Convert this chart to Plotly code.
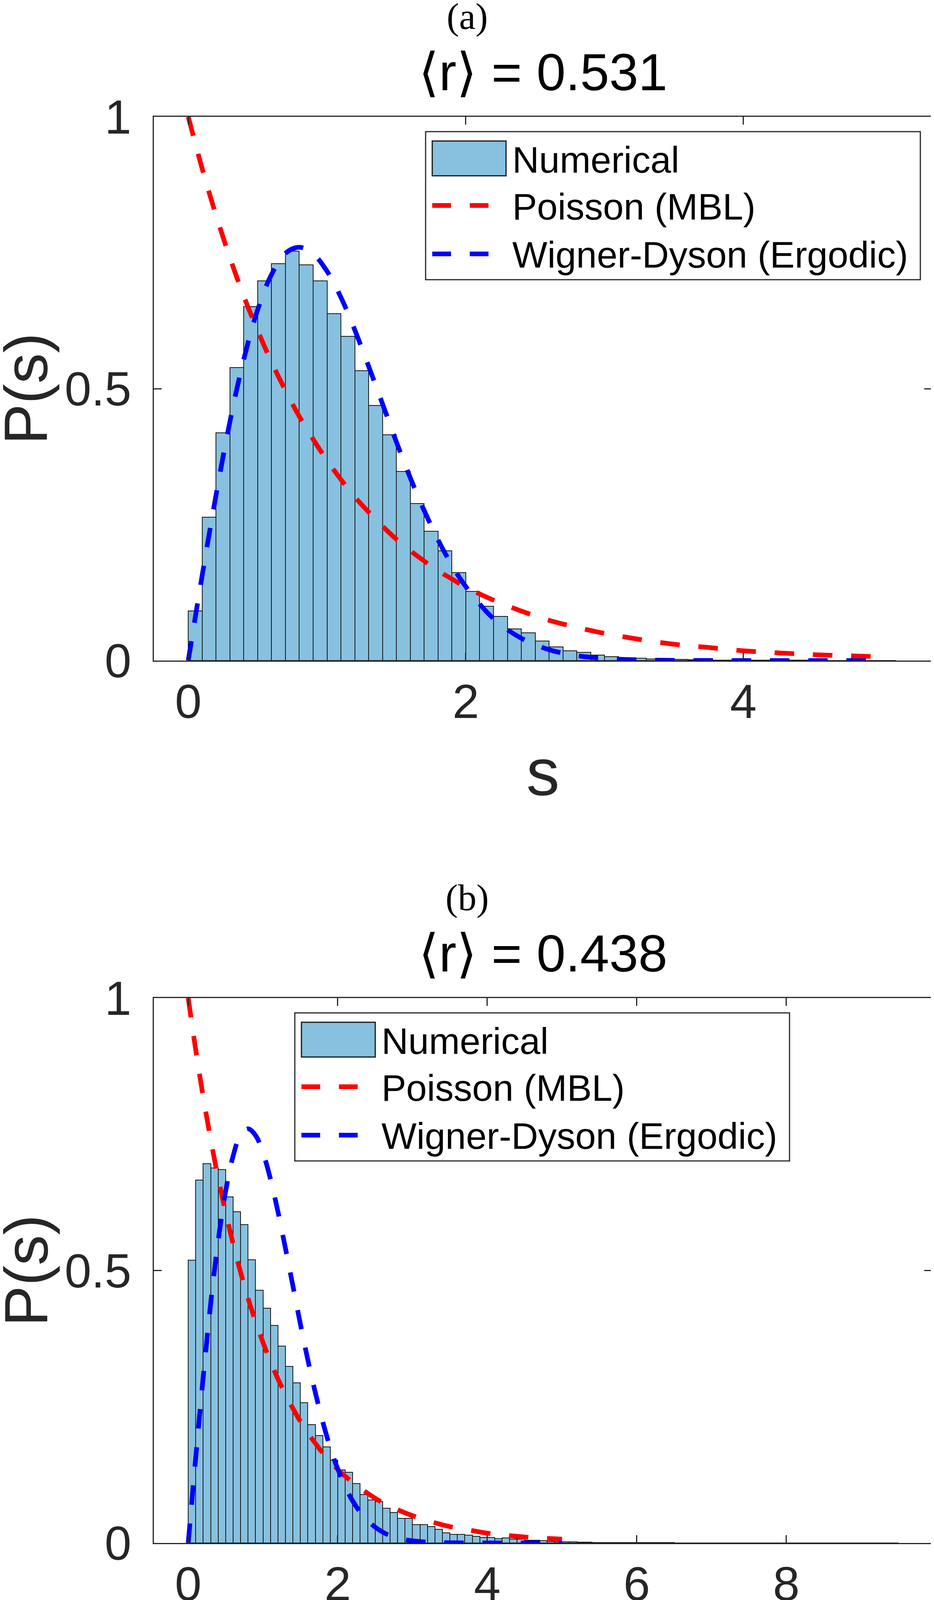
import plotly.graph_objects as go

W, H = 2392, 6581
BIN = 0.1

# ---------------- data ----------------
hist_a = [0.091, 0.264, 0.419, 0.539, 0.651, 0.698, 0.730, 0.753, 0.728, 0.698,
          0.638, 0.596, 0.533, 0.469, 0.415, 0.348, 0.289, 0.238, 0.202, 0.162,
          0.127, 0.100, 0.081, 0.058, 0.051, 0.036, 0.025, 0.018, 0.015, 0.010,
          0.007, 0.005, 0.004, 0.003, 0.002, 0.002, 0.0015, 0.001, 0.001, 0.001,
          0.0008, 0.0006, 0.0005, 0.0004, 0.0004, 0.0003, 0.0003, 0.0002, 0.0002, 0.0002,
          0.0001]

hist_b = [0.519, 0.666, 0.696, 0.688, 0.685, 0.635, 0.608, 0.584, 0.520, 0.464,
          0.431, 0.399, 0.361, 0.324, 0.294, 0.257, 0.217, 0.197, 0.176, 0.152,
          0.134, 0.130, 0.109, 0.089, 0.079, 0.076, 0.064, 0.056, 0.045, 0.045,
          0.034, 0.034, 0.030, 0.025, 0.019, 0.016, 0.016, 0.014, 0.012, 0.010,
          0.010, 0.008, 0.009, 0.007, 0.007, 0.005, 0.005, 0.004, 0.003, 0.002,
          0.002, 0.002, 0.0015, 0.0015, 0.001, 0.001, 0.001, 0.0008, 0.0008, 0.0006,
          0.0005, 0.0005, 0.0004, 0.0004, 0.0004, 0.0003, 0.0003, 0.0003, 0.0003, 0.0002,
          0.0002, 0.0002, 0.0002, 0.0002, 0.0002, 0.0001, 0.0001, 0.0001, 0.0001, 0.0001,
          0.0001, 0.0001, 0.0001, 0.0001, 0.0001, 0.0001, 0.0001, 0.0001, 0.0001, 0.0001,
          0.0001, 0.0001, 0.0001, 0.0001, 0.0001]

hist_c = [0.758, 0.797, 0.775, 0.721, 0.673, 0.611, 0.562, 0.515, 0.463, 0.410,
          0.394, 0.356, 0.309, 0.281, 0.243, 0.225, 0.199, 0.182, 0.160, 0.136,
          0.121, 0.100, 0.098, 0.090, 0.079, 0.067, 0.062, 0.059, 0.050, 0.050,
          0.042, 0.038, 0.034, 0.032, 0.027, 0.025, 0.022, 0.019, 0.015, 0.015,
          0.014, 0.011, 0.010, 0.012, 0.009, 0.008, 0.004, 0.003, 0.004, 0.003,
          0.005, 0.003, 0.002, 0.004, 0.003, 0.002, 0.003, 0.002, 0.002, 0.002,
          0.0015, 0.002, 0.001, 0.001, 0.001, 0.0008, 0.0008, 0.0006, 0.0005, 0.0005,
          0.0004, 0.0004, 0.0004, 0.0003, 0.0003, 0.0003, 0.0003, 0.0003, 0.0002, 0.0002,
          0.0002, 0.0002, 0.0002, 0.0002, 0.0002, 0.0002, 0.0002, 0.0001, 0.0001, 0.0001,
          0.0001, 0.0001, 0.0001, 0.0001, 0.0001, 0.0001, 0.0001, 0.0001, 0.0001, 0.0001,
          0.0001, 0.0001, 0.0001, 0.0001, 0.0001, 0.0001, 0.0001, 0.0001, 0.0001, 0.0001,
          0.0001, 0.0001, 0.0001, 0.0001, 0.0001, 0.0001, 0.0001, 0.0001, 0.0001, 0.0001,
          0.0001, 0.0001, 0.0001, 0.0001, 0.0001, 0.0001, 0.0001, 0.0001, 0.0001, 0.0001,
          0.0001, 0.0001, 0.0001, 0.0001, 0.0001]

s_curve = [0.0, 0.1, 0.2, 0.3, 0.4, 0.5, 0.6, 0.7, 0.8, 0.9, 1.0, 1.1, 1.2, 1.3, 1.4,
           1.5, 1.6, 1.7, 1.8, 1.9, 2.0, 2.2, 2.4, 2.6, 2.8, 3.0, 3.25, 3.5, 3.75,
           4.0, 4.5, 5.0]
poisson_curve = [1.000, 0.905, 0.819, 0.741, 0.670, 0.607, 0.549, 0.497, 0.449, 0.407,
                 0.368, 0.333, 0.301, 0.273, 0.247, 0.223, 0.202, 0.183, 0.165, 0.150,
                 0.135, 0.111, 0.091, 0.074, 0.061, 0.050, 0.039, 0.030, 0.024, 0.018,
                 0.011, 0.007]
wigner_curve = [0.000, 0.156, 0.304, 0.439, 0.554, 0.645, 0.710, 0.749, 0.760, 0.748,
                0.716, 0.668, 0.608, 0.541, 0.472, 0.402, 0.336, 0.276, 0.222, 0.175,
                0.136, 0.077, 0.041, 0.020, 0.009, 0.004, 0.0013, 0.0004, 0.0001, 0.0,
                0.0, 0.0]

histograms = [hist_a, hist_b, hist_c]
panel_tags = ["(a)", "(b)", "(c)"]
r_means = ["0.531", "0.438", "0.408"]
xtick_vals = [[0, 2, 4], [0, 2, 4, 6, 8], [0, 5, 10]]
ytick_vals = [0, 0.5, 1]
ytick_text = ["0", "0.5", "1"]
legend_labels = ["Numerical", "Poisson (MBL)", "Wigner-Dyson (Ergodic)"]

# ---------------- layout geometry (target pixels in the picture) ----------------
x_ranges = [[-0.248, 5.36], [-0.46, 9.95], [-0.652, 14.12]]
plot_left, plot_right = 394, 2387
plot_top = [299, 2555, 4813]
plot_bot = [1691, 3950, 6208]
legend_left = [1090, 755, 755]
xlabel_off = [285, 289, 331]
PAGE_OFFSET = 8  # default body margin of the html page

BAR_COLOR = "#87C1DF"
AX_COLOR = "#262626"
SANS = "Liberation Sans, Arial, DejaVu Sans, sans-serif"
SERIF = "Liberation Serif, Times New Roman, DejaVu Serif, serif"


def px(x):
    return (x - PAGE_OFFSET) / W


def py(y):
    return 1 - (y - PAGE_OFFSET) / H


fig = go.Figure()
layout = dict(width=W, height=H, autosize=False,
              margin=dict(l=0, r=0, t=0, b=0, pad=0, autoexpand=False),
              paper_bgcolor="white", plot_bgcolor="white", showlegend=False,
              bargap=0, barmode="overlay")
annotations = []
shapes = []

for i in range(3):
    sfx = "" if i == 0 else str(i + 1)
    xa, ya = "x" + sfx, "y" + sfx
    hist = histograms[i]
    centers = [BIN * (k + 0.5) for k in range(len(hist))]
    fig.add_trace(go.Bar(x=centers, y=hist, width=BIN, xaxis=xa, yaxis=ya,
                         marker=dict(color=BAR_COLOR, line=dict(color="#151515", width=2)),
                         name=legend_labels[0]))
    fig.add_trace(go.Scatter(x=s_curve, y=poisson_curve, mode="lines", xaxis=xa, yaxis=ya,
                             line=dict(color="#FF0000", width=12, dash="50px,48px", shape="spline"),
                             name=legend_labels[1]))
    fig.add_trace(go.Scatter(x=s_curve, y=wigner_curve, mode="lines", xaxis=xa, yaxis=ya,
                             line=dict(color="#0000FF", width=12, dash="50px,48px", shape="spline"),
                             name=legend_labels[2]))

    common = dict(showgrid=False, zeroline=False, showline=True, linecolor=AX_COLOR,
                  linewidth=3, mirror="ticks", ticks="inside", ticklen=20, tickwidth=3,
                  automargin=False,
                  tickcolor=AX_COLOR, tickfont=dict(family=SANS, size=123, color=AX_COLOR))
    layout["xaxis" + sfx] = dict(common, domain=[px(plot_left), px(plot_right)],
                                 range=x_ranges[i], anchor=ya, tickmode="array",
                                 tickvals=xtick_vals[i], ticktext=[str(v) for v in xtick_vals[i]],
                                 ticklabelstandoff=-4)
    layout["yaxis" + sfx] = dict(common, domain=[py(plot_bot[i]), py(plot_top[i])],
                                 range=[0, 1], anchor=xa, tickmode="array",
                                 tickvals=ytick_vals, ticktext=ytick_text,
                                 ticklabelstandoff=30)

    top, bot = plot_top[i], plot_bot[i]
    cx = (plot_left + plot_right) / 2
    # panel tag and title
    annotations.append(dict(text=panel_tags[i], x=px(1196), y=py(top - 257), xref="paper",
                            yref="paper", showarrow=False, xanchor="center", yanchor="middle",
                            font=dict(family=SERIF, size=95, color="black")))
    annotations.append(dict(text="\u27e8r\u27e9 = " + r_means[i], x=px(cx), y=py(top - 115),
                            xref="paper", yref="paper", showarrow=False, xanchor="center",
                            yanchor="middle", font=dict(family=SANS, size=134, color="black")))
    # axis labels
    annotations.append(dict(text="s", x=px(cx), y=py(bot + xlabel_off[i]), xref="paper",
                            yref="paper", showarrow=False, xanchor="center", yanchor="middle",
                            font=dict(family=SANS, size=170, color=AX_COLOR)))
    annotations.append(dict(text="P(s)", x=px(66), y=py((top + bot) / 2), xref="paper",
                            yref="paper", showarrow=False, xanchor="center", yanchor="middle",
                            textangle=-90, font=dict(family=SANS, size=156, color=AX_COLOR)))

    # legend box
    L = legend_left[i]
    T = top + 38
    shapes.append(dict(type="rect", xref="paper", yref="paper", x0=px(L), x1=px(L + 1267),
                       y0=py(T + 379), y1=py(T), fillcolor="white",
                       line=dict(color=AX_COLOR, width=3), layer="above"))
    shapes.append(dict(type="rect", xref="paper", yref="paper", x0=px(L + 17), x1=px(L + 206),
                       y0=py(T + 113), y1=py(T + 24), fillcolor=BAR_COLOR,
                       line=dict(color="#151515", width=3), layer="above"))
    for color, yy in (("#FF0000", T + 189), ("#0000FF", T + 313)):
        shapes.append(dict(type="line", xref="paper", yref="paper", x0=px(L + 17),
                           x1=px(L + 161), y0=py(yy), y1=py(yy),
                           line=dict(color=color, width=12, dash="48px,48px"), layer="above"))
    for lab, yy in zip(legend_labels, (T + 72, T + 192, T + 315)):
        annotations.append(dict(text=lab, x=px(L + 220), y=py(yy), xref="paper", yref="paper",
                                showarrow=False, xanchor="left", yanchor="middle",
                                font=dict(family=SANS, size=95, color="black")))

layout["annotations"] = annotations
layout["shapes"] = shapes
fig.update_layout(**layout)
fig.write_html("out.html")
